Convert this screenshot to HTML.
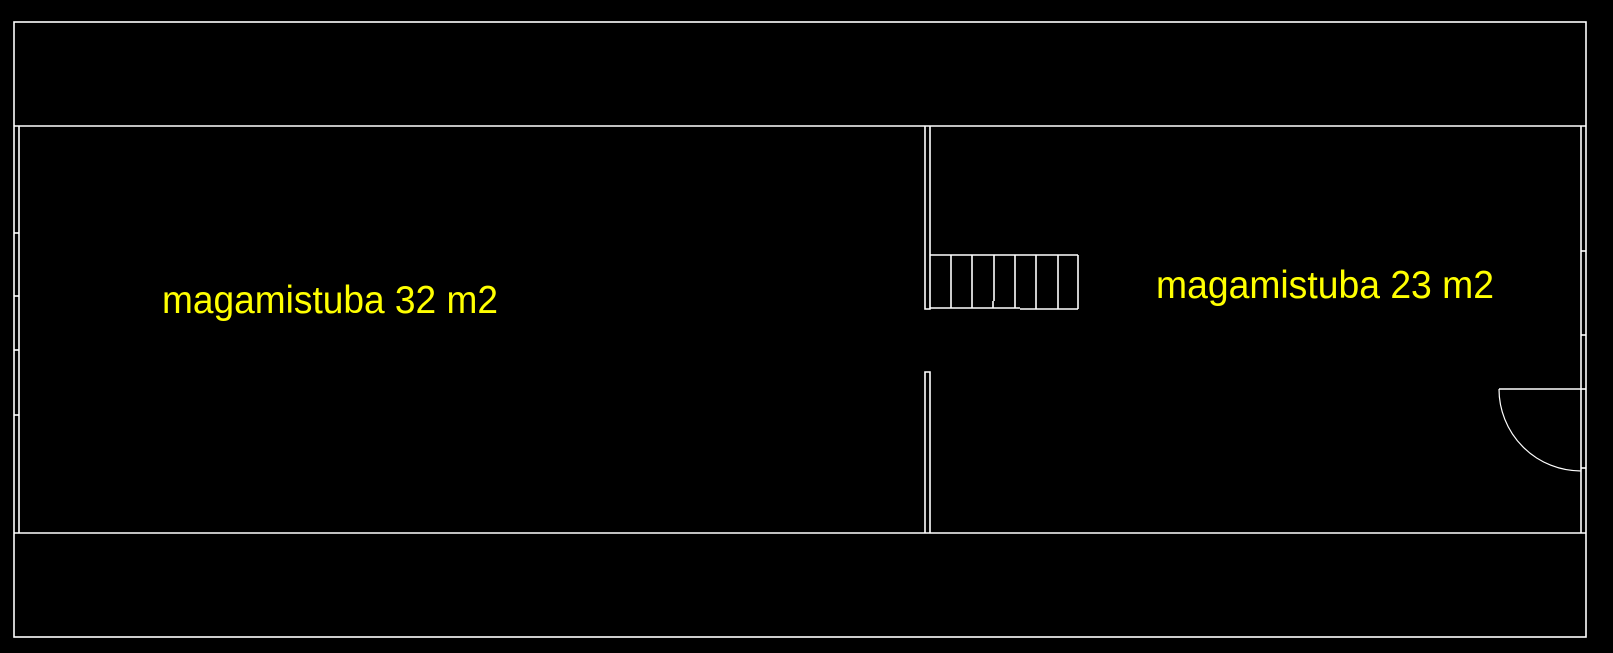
<!DOCTYPE html>
<html><head><meta charset="utf-8"><style>html,body{margin:0;padding:0;background:#000;}svg{display:block}</style></head>
<body>
<svg width="1613" height="653" viewBox="0 0 1613 653" xmlns="http://www.w3.org/2000/svg">
<rect width="1613" height="653" fill="#000"/>
<g stroke="#fff" stroke-width="1.6" fill="none">
<rect x="14" y="22" width="1572" height="615"/>
<line x1="14" y1="126" x2="1586" y2="126"/>
<line x1="14" y1="533" x2="1586" y2="533"/>
<line x1="19" y1="126" x2="19" y2="533"/>
<line x1="14" y1="233" x2="19" y2="233"/>
<line x1="14" y1="296" x2="19" y2="296"/>
<line x1="14" y1="350" x2="19" y2="350"/>
<line x1="14" y1="415" x2="19" y2="415"/>
<line x1="1581" y1="126" x2="1581" y2="533"/>
<line x1="1581" y1="251" x2="1586" y2="251"/>
<line x1="1581" y1="335" x2="1586" y2="335"/>
<line x1="1581" y1="389" x2="1586" y2="389"/>
<line x1="1581" y1="468" x2="1586" y2="468"/>
<polyline points="925,126 925,309 930,309 930,126"/>
<polyline points="925,533 925,372 930,372 930,533"/>
<line x1="930" y1="255" x2="1078" y2="255"/>
<line x1="930" y1="308" x2="1020" y2="308"/>
<line x1="1020" y1="309" x2="1078" y2="309"/>
<line x1="951" y1="255" x2="951" y2="308"/>
<line x1="972" y1="255" x2="972" y2="308"/>
<line x1="994" y1="255" x2="994" y2="301"/>
<line x1="993" y1="301" x2="993" y2="308"/>
<line x1="1015" y1="255" x2="1015" y2="308"/>
<line x1="1036" y1="255" x2="1036" y2="309"/>
<line x1="1058" y1="255" x2="1058" y2="309"/>
<line x1="1078" y1="255" x2="1078" y2="309"/>
<line x1="1499" y1="389" x2="1581" y2="389"/>
<path d="M1499,389 A82,82 0 0 0 1581,471" stroke-width="1.2"/>
</g>
<g fill="#ffff00" font-family="Liberation Sans, Arial, sans-serif" font-size="39">
<text x="162" y="313" textLength="336" lengthAdjust="spacingAndGlyphs">magamistuba 32 m2</text>
<text x="1156" y="298" textLength="338" lengthAdjust="spacingAndGlyphs">magamistuba 23 m2</text>
</g>
</svg>
</body></html>
